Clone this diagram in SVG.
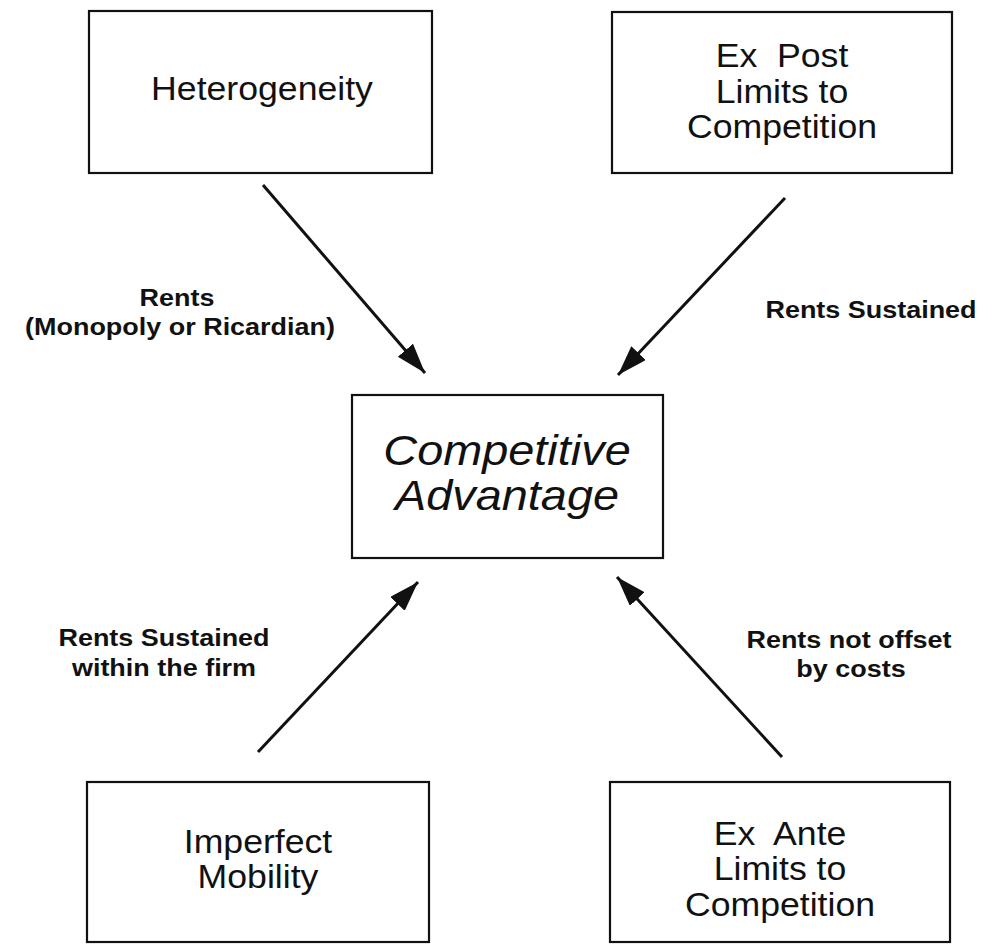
<svg xmlns="http://www.w3.org/2000/svg" width="984" height="945" viewBox="0 0 984 945">
<style>
.box{fill:#fff;stroke:#111;stroke-width:2.2}
.nt{font-family:"Liberation Sans",Arial,sans-serif;font-size:33px;fill:#111;text-anchor:middle}
.ct{font-family:"Liberation Sans",Arial,sans-serif;font-size:43px;font-style:italic;fill:#111;text-anchor:middle}
.lb{font-family:"Liberation Sans",Arial,sans-serif;font-size:24.5px;font-weight:bold;fill:#111;text-anchor:middle}
.arr{stroke:#111;stroke-width:3;fill:none;marker-end:url(#ah)}
</style>
<defs>
<marker id="ah" markerUnits="userSpaceOnUse" markerWidth="32" markerHeight="22" refX="30" refY="10" orient="auto" viewBox="0 0 32 22">
<path d="M0,0 L30,10 L0,20 z" fill="#111"/>
</marker>
</defs>
<rect width="984" height="945" fill="#fff"/>
<g id="connectors">
<line class="arr" x1="263" y1="185" x2="425" y2="373"/>
<line class="arr" x1="785" y1="198" x2="618" y2="375"/>
<line class="arr" x1="258" y1="752" x2="418" y2="582"/>
<line class="arr" x1="782" y1="757" x2="617" y2="577"/>
</g>
<g id="labels">
<text class="lb" transform="translate(177,306) scale(1.1,1)">Rents</text>
<text class="lb" transform="translate(180,335) scale(1.1,1)">(Monopoly or Ricardian)</text>
<text class="lb" transform="translate(871,318) scale(1.1,1)">Rents Sustained</text>
<text class="lb" transform="translate(164,646) scale(1.1,1)">Rents Sustained</text>
<text class="lb" transform="translate(164,676) scale(1.1,1)">within the firm</text>
<text class="lb" transform="translate(849,648) scale(1.1,1)">Rents not offset</text>
<text class="lb" transform="translate(851,677) scale(1.1,1)">by costs</text>
</g>
<g id="heterogeneity">
<rect class="box" x="89" y="11" width="343" height="162"/>
<text class="nt" transform="translate(262,100) scale(1.08,1)">Heterogeneity</text>
</g>
<g id="ex-post">
<rect class="box" x="612" y="12" width="340" height="161"/>
<text class="nt" transform="translate(782,67) scale(1.08,1)">Ex&#160; Post</text>
<text class="nt" transform="translate(782,103) scale(1.08,1)">Limits to</text>
<text class="nt" transform="translate(782,138) scale(1.08,1)">Competition</text>
</g>
<g id="competitive-advantage">
<rect class="box" x="352" y="395" width="311" height="163"/>
<text class="ct" transform="translate(507,465) scale(1.09,1)">Competitive</text>
<text class="ct" transform="translate(507,510) scale(1.09,1)">Advantage</text>
</g>
<g id="imperfect-mobility">
<rect class="box" x="87" y="782" width="342" height="160"/>
<text class="nt" transform="translate(258,853) scale(1.08,1)">Imperfect</text>
<text class="nt" transform="translate(258,888) scale(1.08,1)">Mobility</text>
</g>
<g id="ex-ante">
<rect class="box" x="610" y="782" width="340" height="160"/>
<text class="nt" transform="translate(780,845) scale(1.08,1)">Ex&#160; Ante</text>
<text class="nt" transform="translate(780,880) scale(1.08,1)">Limits to</text>
<text class="nt" transform="translate(780,916) scale(1.08,1)">Competition</text>
</g>
</svg>
